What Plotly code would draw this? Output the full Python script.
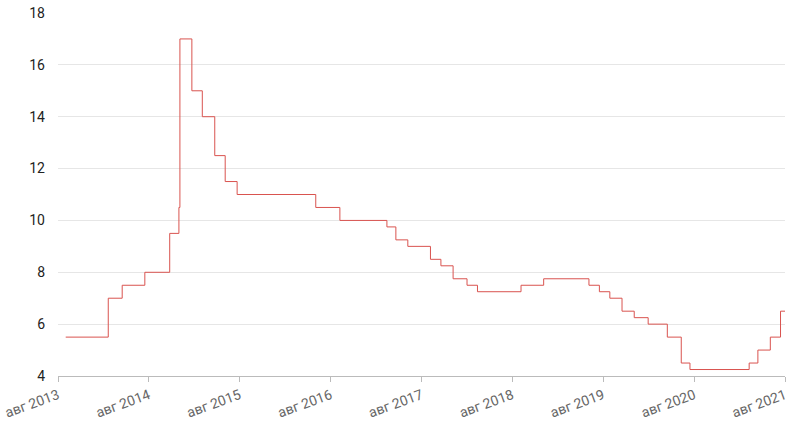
import plotly.graph_objects as go

dates = ["2013-09-13", "2014-03-03", "2014-04-28", "2014-07-28", "2014-11-05", "2014-12-12",
         "2014-12-16", "2015-02-02", "2015-03-16", "2015-05-05", "2015-06-16", "2015-08-03",
         "2016-06-14", "2016-09-19", "2017-03-27", "2017-05-02", "2017-06-19", "2017-09-18",
         "2017-10-30", "2017-12-18", "2018-02-12", "2018-03-26", "2018-09-17", "2018-12-17",
         "2019-06-17", "2019-07-29", "2019-09-09", "2019-10-28", "2019-12-16", "2020-02-10",
         "2020-04-27", "2020-06-22", "2020-07-27", "2021-03-22", "2021-04-26", "2021-06-15",
         "2021-07-26", "2021-08-13"]
rates = [5.5, 7.0, 7.5, 8.0, 9.5, 10.5,
         17.0, 15.0, 14.0, 12.5, 11.5, 11.0,
         10.5, 10.0, 9.75, 9.25, 9.0, 8.5,
         8.25, 7.75, 7.5, 7.25, 7.5, 7.75,
         7.5, 7.25, 7.0, 6.5, 6.25, 6.0,
         5.5, 4.5, 4.25, 4.5, 5.0, 5.5,
         6.5, 6.5]

tick_vals = ["2013-08-13", "2014-08-13", "2015-08-13", "2016-08-13", "2017-08-13",
             "2018-08-13", "2019-08-13", "2020-08-13", "2021-08-13"]
tick_text = ["авг 2013", "авг 2014", "авг 2015", "авг 2016", "авг 2017",
             "авг 2018", "авг 2019", "авг 2020", "авг 2021"]

fig = go.Figure()
fig.add_trace(go.Scatter(x=dates, y=rates, mode="lines", line_shape="hv",
                         line=dict(color="#d9534f", width=1), hoverinfo="x+y"))

fig.update_layout(
    width=800, height=427,
    margin=dict(l=58, r=15, t=13, b=51),
    paper_bgcolor="white", plot_bgcolor="white",
    font=dict(family="Roboto", size=14, color="#222"),
    showlegend=False,
    xaxis=dict(range=["2013-08-13", "2021-08-13"], tickvals=tick_vals, ticktext=tick_text,
               tickangle=-20, showgrid=False, showline=True, linecolor="#bbb", linewidth=1,
               ticks="outside", ticklen=5, tickcolor="#bbb", automargin=False,
               tickfont=dict(color="#666", size=14), zeroline=False),
    yaxis=dict(range=[4, 18], dtick=2, showgrid=True, gridcolor="#e6e6e6", gridwidth=1,
               showline=False, zeroline=False, ticks="", automargin=False,
               tickfont=dict(color="#222", size=14), ticklabelstandoff=12),
)

fig.write_html("out.html", config={"displayModeBar": False},
               post_script="document.body.style.margin='0';")
